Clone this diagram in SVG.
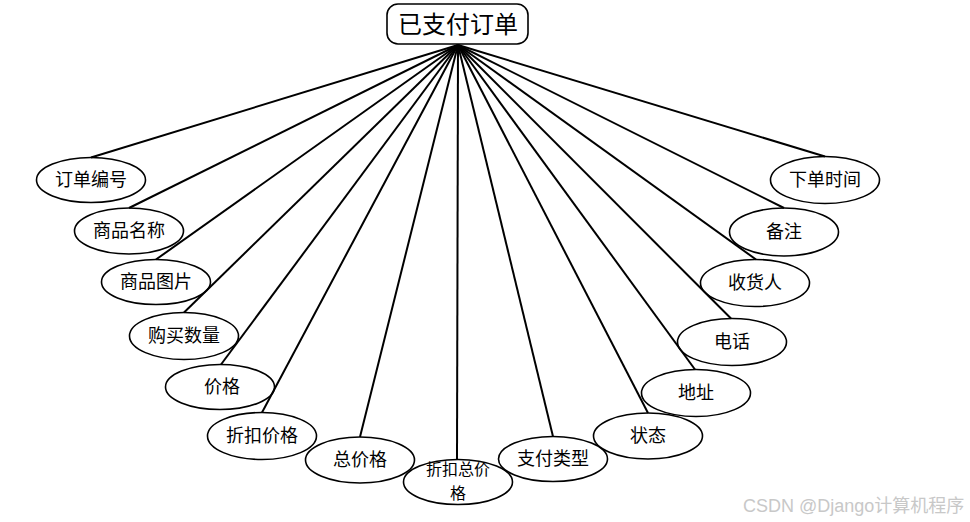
<svg xmlns="http://www.w3.org/2000/svg" width="970" height="522" viewBox="0 0 970 522">
<style>
.n ellipse{fill:#fff;stroke:#000;stroke-width:1.6}
.n text{font-family:"Noto Sans CJK SC","Liberation Serif",serif;font-size:18px;fill:#000;text-anchor:middle}
#conn line{stroke:#000;stroke-width:2}
.wm{font-family:"Liberation Sans","Noto Sans CJK SC",sans-serif;font-size:18px;fill:#c8c8c8}
</style>
<rect width="970" height="522" fill="#fff"/>
<g id="root" class="n">
<rect x="387" y="4" width="141" height="40" rx="11" fill="#fff" stroke="#000" stroke-width="1.6"/>
<text x="458" y="33" style="font-size:24px">已支付订单</text>
</g>
<g id="n1" class="n"><ellipse cx="91" cy="180" rx="54.5" ry="22.5"/><text x="91" y="186">订单编号</text></g>
<g id="n2" class="n"><ellipse cx="129" cy="231" rx="54.5" ry="23"/><text x="129" y="237">商品名称</text></g>
<g id="n3" class="n"><ellipse cx="156" cy="282" rx="54.5" ry="22.5"/><text x="156" y="288">商品图片</text></g>
<g id="n4" class="n"><ellipse cx="184" cy="336" rx="54.5" ry="23.5"/><text x="184" y="342">购买数量</text></g>
<g id="n5" class="n"><ellipse cx="220" cy="387" rx="54.5" ry="22.5"/><text x="222" y="393">价格</text></g>
<g id="n6" class="n"><ellipse cx="262" cy="436" rx="54.5" ry="23.5"/><text x="262" y="442">折扣价格</text></g>
<g id="n7" class="n"><ellipse cx="360" cy="460" rx="54.5" ry="23"/><text x="360" y="466">总价格</text></g>
<g id="n8" class="n"><ellipse cx="458" cy="482" rx="54.5" ry="22.5"/><text x="458" y="475" style="font-size:16px">折扣总价</text><text x="458" y="499" style="font-size:16px">格</text></g>
<g id="n9" class="n"><ellipse cx="553" cy="459" rx="54.5" ry="22.5"/><text x="553" y="465">支付类型</text></g>
<g id="n10" class="n"><ellipse cx="648" cy="436" rx="54.5" ry="23"/><text x="648" y="442">状态</text></g>
<g id="n11" class="n"><ellipse cx="696" cy="393" rx="54.5" ry="23.5"/><text x="696" y="399">地址</text></g>
<g id="n12" class="n"><ellipse cx="732" cy="342" rx="54.5" ry="23.5"/><text x="732" y="348">电话</text></g>
<g id="n13" class="n"><ellipse cx="755" cy="283" rx="54.5" ry="23.5"/><text x="755" y="289">收货人</text></g>
<g id="n14" class="n"><ellipse cx="784" cy="232" rx="54.5" ry="24"/><text x="784" y="238">备注</text></g>
<g id="n15" class="n"><ellipse cx="825" cy="180" rx="54.5" ry="23.5"/><text x="825" y="186">下单时间</text></g>
<g id="conn">
<line x1="458" y1="45" x2="91" y2="157.5"/>
<line x1="458" y1="45" x2="129" y2="208"/>
<line x1="458" y1="45" x2="156" y2="259.5"/>
<line x1="458" y1="45" x2="184" y2="312.5"/>
<line x1="458" y1="45" x2="221" y2="364.5"/>
<line x1="458" y1="45" x2="262" y2="412.5"/>
<line x1="458" y1="45" x2="360" y2="437"/>
<line x1="458" y1="45" x2="457" y2="459.5"/>
<line x1="458" y1="45" x2="553" y2="436.5"/>
<line x1="458" y1="45" x2="648" y2="413"/>
<line x1="458" y1="45" x2="695" y2="369.5"/>
<line x1="458" y1="45" x2="731" y2="318.5"/>
<line x1="458" y1="45" x2="756" y2="259.5"/>
<line x1="458" y1="45" x2="784" y2="208"/>
<line x1="458" y1="45" x2="825" y2="156.5"/>
</g>
<text class="wm" x="743" y="512">CSDN @Django计算机程序</text>
</svg>
